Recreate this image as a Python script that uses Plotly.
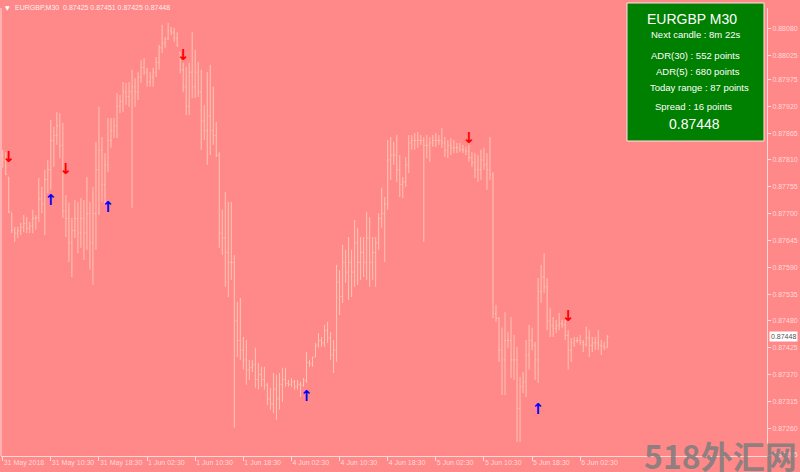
import plotly.graph_objects as go

# EURGBP M30 bars, prices in points (1e-5)
open_pts = [
    87820, 87810, 87775, 87703, 87666, 87660, 87665, 87672, 87680, 87670, 87675, 87690, 87692, 87730, 87720, 87770,
    87790, 87850, 87860, 87880, 87840, 87705, 87690, 87640, 87665, 87690, 87660, 87690, 87660, 87700, 87640, 87700,
    87790, 87830, 87760, 87800, 87850, 87870, 87880, 87920, 87930, 87950, 87940, 87950, 87960, 87950, 87980, 88000,
    87990, 87970, 87980, 87990, 88010, 88040, 88050, 88058, 88075, 88072, 88060, 88031, 87995, 87960, 87920, 87990,
    87960, 87990, 87950, 87890, 87870, 87900, 87870, 87860, 87820, 87660, 87650, 87620, 87600, 87600, 87480, 87440,
    87420, 87400, 87380, 87385, 87390, 87360, 87370, 87360, 87348, 87320, 87310, 87340, 87320, 87350, 87360, 87352,
    87350, 87355, 87345, 87350, 87348, 87358, 87395, 87392, 87406, 87430, 87440, 87435, 87460, 87445, 87410, 87420,
    87560, 87530, 87600, 87580, 87600, 87580, 87640, 87600, 87620, 87600, 87650, 87600, 87620, 87640, 87690, 87700,
    87720, 87810, 87820, 87820, 87790, 87760, 87765, 87800, 87845, 87850, 87850, 87850, 87850, 87840, 87840, 87845,
    87850, 87850, 87850, 87845, 87830, 87840, 87835, 87835, 87835, 87832, 87830, 87828, 87815, 87805, 87790, 87790,
    87810, 87800, 87790, 87780, 87495, 87485, 87420, 87400, 87440, 87440, 87400, 87400, 87300, 87345, 87355, 87410,
    87440, 87430, 87400, 87540, 87570, 87550, 87480, 87470, 87465, 87470, 87475, 87472, 87450, 87420, 87435, 87440,
    87440, 87436, 87432, 87445, 87430, 87435, 87435, 87430, 87428, 87425,
]
high_pts = [
    87831, 87826, 87775, 87701, 87673, 87673, 87681, 87697, 87693, 87683, 87708, 87697, 87773, 87755, 87790, 87810,
    87892, 87878, 87908, 87906, 87886, 87738, 87722, 87691, 87728, 87724, 87732, 87728, 87775, 87724, 87755, 87847,
    87919, 87857, 87824, 87896, 87896, 87896, 87947, 87943, 87970, 87968, 87970, 87995, 87978, 87990, 88015, 88019,
    87999, 87990, 87999, 88021, 88046, 88087, 88062, 88091, 88083, 88081, 88072, 88031, 88009, 88001, 88009, 88072,
    88036, 88011, 87995, 87923, 87990, 88005, 87960, 87888, 87826, 87708, 87744, 87724, 87724, 87615, 87519, 87527,
    87447, 87441, 87400, 87400, 87425, 87394, 87386, 87386, 87353, 87343, 87373, 87369, 87373, 87384, 87384, 87359,
    87363, 87359, 87359, 87355, 87363, 87416, 87400, 87406, 87435, 87455, 87447, 87472, 87478, 87457, 87441, 87595,
    87584, 87636, 87626, 87652, 87626, 87687, 87671, 87652, 87652, 87703, 87693, 87652, 87652, 87701, 87753, 87734,
    87851, 87857, 87847, 87861, 87820, 87775, 87816, 87861, 87861, 87865, 87867, 87861, 87857, 87861, 87857, 87861,
    87865, 87861, 87876, 87857, 87851, 87855, 87851, 87845, 87845, 87841, 87837, 87841, 87826, 87824, 87820, 87831,
    87835, 87824, 87857, 87785, 87513, 87488, 87466, 87498, 87457, 87488, 87451, 87427, 87365, 87375, 87441, 87472,
    87466, 87437, 87568, 87595, 87619, 87568, 87507, 87488, 87482, 87496, 87482, 87482, 87461, 87445, 87447, 87447,
    87451, 87441, 87468, 87461, 87447, 87447, 87461, 87441, 87437, 87451,
]
low_pts = [
    87794, 87779, 87701, 87660, 87642, 87650, 87656, 87662, 87660, 87660, 87660, 87667, 87683, 87701, 87656, 87742,
    87749, 87796, 87841, 87814, 87691, 87652, 87601, 87570, 87650, 87619, 87630, 87605, 87626, 87585, 87554, 87626,
    87697, 87724, 87718, 87785, 87835, 87855, 87855, 87906, 87908, 87923, 87919, 87712, 87919, 87933, 87968, 87984,
    87960, 87960, 87960, 87980, 87995, 88029, 88040, 88056, 88066, 88052, 88042, 87988, 87949, 87902, 87902, 87937,
    87937, 87939, 87831, 87851, 87800, 87820, 87841, 87816, 87630, 87615, 87550, 87529, 87564, 87261, 87406, 87400,
    87380, 87349, 87359, 87375, 87343, 87339, 87345, 87339, 87308, 87298, 87291, 87277, 87298, 87314, 87345, 87345,
    87345, 87339, 87339, 87324, 87345, 87353, 87386, 87386, 87406, 87425, 87427, 87427, 87435, 87400, 87373, 87396,
    87492, 87517, 87558, 87523, 87529, 87550, 87554, 87564, 87570, 87564, 87550, 87564, 87550, 87626, 87671, 87601,
    87708, 87769, 87800, 87765, 87734, 87732, 87755, 87783, 87831, 87831, 87835, 87841, 87642, 87814, 87806, 87837,
    87837, 87841, 87835, 87816, 87814, 87820, 87824, 87824, 87826, 87824, 87820, 87806, 87796, 87773, 87765, 87769,
    87790, 87749, 87769, 87486, 87478, 87396, 87328, 87328, 87425, 87363, 87359, 87232, 87232, 87332, 87324, 87380,
    87420, 87359, 87353, 87517, 87537, 87461, 87447, 87447, 87455, 87461, 87466, 87441, 87380, 87396, 87427, 87435,
    87431, 87416, 87427, 87406, 87416, 87420, 87420, 87410, 87420, 87425,
]
close_pts = [
    87810, 87780, 87703, 87666, 87660, 87665, 87672, 87680, 87670, 87675, 87690, 87692, 87730, 87720, 87770, 87790,
    87850, 87860, 87880, 87840, 87705, 87690, 87640, 87665, 87690, 87660, 87690, 87660, 87700, 87640, 87700, 87790,
    87830, 87760, 87800, 87850, 87870, 87880, 87920, 87930, 87950, 87940, 87950, 87960, 87950, 87980, 88000, 87990,
    87970, 87980, 87990, 88010, 88040, 88050, 88058, 88075, 88072, 88060, 88045, 87995, 87960, 87920, 87990, 87960,
    87990, 87950, 87890, 87870, 87900, 87870, 87860, 87820, 87660, 87650, 87620, 87600, 87600, 87480, 87440, 87420,
    87400, 87380, 87385, 87390, 87360, 87370, 87360, 87348, 87320, 87310, 87340, 87320, 87350, 87360, 87352, 87350,
    87355, 87345, 87350, 87348, 87358, 87395, 87392, 87406, 87430, 87440, 87435, 87460, 87445, 87410, 87420, 87560,
    87530, 87600, 87580, 87600, 87580, 87640, 87600, 87620, 87600, 87650, 87600, 87620, 87640, 87690, 87700, 87720,
    87810, 87820, 87820, 87790, 87760, 87765, 87800, 87845, 87850, 87850, 87850, 87850, 87840, 87840, 87845, 87850,
    87850, 87850, 87845, 87830, 87840, 87835, 87835, 87835, 87832, 87830, 87828, 87815, 87805, 87790, 87790, 87810,
    87800, 87790, 87780, 87495, 87485, 87420, 87400, 87440, 87440, 87400, 87400, 87300, 87345, 87355, 87410, 87440,
    87430, 87400, 87540, 87570, 87550, 87480, 87470, 87465, 87470, 87475, 87472, 87450, 87420, 87435, 87440, 87440,
    87436, 87432, 87445, 87430, 87435, 87435, 87430, 87428, 87425, 87448,
]

time_tick_idx = [0, 16, 32, 48, 64, 80, 96, 112, 128, 144, 160, 176, 192]
time_tick_text = ["31 May 2018", "31 May 10:30", "31 May 18:30", "1 Jun 02:30", "1 Jun 10:30",
                  "1 Jun 18:30", "4 Jun 02:30", "4 Jun 10:30", "4 Jun 18:30", "5 Jun 02:30",
                  "5 Jun 10:30", "5 Jun 18:30", "6 Jun 02:30"]
price_ticks = [0.88080, 0.88025, 0.87975, 0.87920, 0.87865, 0.87810, 0.87755, 0.87700, 0.87645,
               0.87590, 0.87535, 0.87480, 0.87425, 0.87370, 0.87315, 0.87260, 0.87205]

# signal arrows (bar index, price)
down_idx = [2, 21, 60, 155, 188]
down_price = [0.87814, 0.87789, 0.88023, 0.87853, 0.87488]
up_idx = [16, 35, 101, 178]
up_price = [0.87726, 0.87712, 0.87324, 0.87297]

info_lines = ["Next candle : 8m 22s", "ADR(30) : 552 points", "ADR(5) : 680 points",
              "Today range : 87 points", "Spread : 16 points"]
info_x = [695, 695, 698, 699, 693]
info_y = [35, 56, 71, 87, 106]
last_price = 0.87448

bg = "#FF8888"
bar_col = "#FFC6B4"
txt_col = "#FFD9D9"
font = "Liberation Sans"

idx = list(range(len(close_pts)))
fig = go.Figure()
fig.add_trace(go.Ohlc(
    x=idx,
    open=[v / 1e5 for v in open_pts],
    high=[v / 1e5 for v in high_pts],
    low=[v / 1e5 for v in low_pts],
    close=[v / 1e5 for v in close_pts],
    increasing_line_color=bar_col, decreasing_line_color=bar_col,
    line_width=1, tickwidth=0.34, showlegend=False, hoverinfo="skip",
))
fig.add_trace(go.Scatter(x=down_idx, y=down_price, mode="text", text=["<b>↓</b>"] * len(down_idx),
                         textfont=dict(color="#FF0000", size=15, family="DejaVu Sans"),
                         showlegend=False, hoverinfo="skip"))
fig.add_trace(go.Scatter(x=up_idx, y=up_price, mode="text", text=["<b>↑</b>"] * len(up_idx),
                         textfont=dict(color="#0000FF", size=15, family="DejaVu Sans"),
                         showlegend=False, hoverinfo="skip"))

W, H = 800, 472
ml, mr, mt, mb = 1, 33, 8, 16
pw, ph = W - ml - mr, H - mt - mb


def px_x(x):
    return (x - ml) / pw


def px_y(y):
    return (H - mb - y) / ph


fig.update_layout(
    width=W, height=H,
    margin=dict(l=ml, r=mr, t=mt, b=mb),
    paper_bgcolor=bg, plot_bgcolor=bg,
    font=dict(family=font, size=7, color=txt_col),
    xaxis=dict(range=[-0.57, 254.1], rangeslider_visible=False, showgrid=False, zeroline=False,
               tickmode="array", tickvals=time_tick_idx, ticktext=time_tick_text, tickangle=0,
               ticks="outside", ticklen=4, tickcolor=txt_col, ticklabelposition="outside right",
               showline=True, linecolor=txt_col, linewidth=1,
               tickfont=dict(family=font, size=7, color=txt_col)),
    yaxis=dict(range=[0.872030, 0.881216], side="right", showgrid=False, zeroline=False,
               tickmode="array", tickvals=price_ticks, tickformat=".5f",
               ticks="outside", ticklen=3, tickcolor=txt_col,
               showline=True, linecolor=txt_col, linewidth=1,
               tickfont=dict(family=font, size=7, color=txt_col)),
)

# left border
fig.add_shape(type="line", xref="paper", yref="paper", x0=0, x1=0, y0=0, y1=1,
              line=dict(color=txt_col, width=1))

# header
fig.add_annotation(xref="paper", yref="paper", x=px_x(3), y=px_y(7), xanchor="left", yanchor="middle",
                   text="▼", showarrow=False, font=dict(size=6, color="#FFFFFF", family="DejaVu Sans"))
fig.add_annotation(xref="paper", yref="paper", x=px_x(13), y=px_y(7), xanchor="left", yanchor="middle",
                   text="EURGBP,M30  0.87425 0.87451 0.87425 0.87448", showarrow=False,
                   font=dict(size=7, color="#FFEFEF", family=font))

# info panel
fig.add_shape(type="rect", xref="paper", yref="paper", x0=px_x(627), x1=px_x(764), y0=px_y(141), y1=px_y(3),
              fillcolor="#008000", line=dict(color="#FFE6E6", width=1))
fig.add_annotation(xref="paper", yref="paper", x=px_x(692), y=px_y(19), text="EURGBP M30", showarrow=False,
                   xanchor="center", yanchor="middle", font=dict(size=14, color="white", family=font))
for line, xx, yy in zip(info_lines, info_x, info_y):
    fig.add_annotation(xref="paper", yref="paper", x=px_x(xx), y=px_y(yy), text=line, showarrow=False,
                       xanchor="center", yanchor="middle", font=dict(size=9.5, color="white", family=font))
fig.add_annotation(xref="paper", yref="paper", x=px_x(694), y=px_y(124), text=f"{last_price:.5f}",
                   showarrow=False, xanchor="center", yanchor="middle",
                   font=dict(size=14, color="white", family=font))

# current price label on the axis
fig.add_annotation(xref="paper", yref="y", x=px_x(769), y=last_price, xanchor="left", yanchor="middle",
                   text=f"{last_price:.5f}", showarrow=False, bgcolor="white", borderpad=1,
                   font=dict(size=7, color="#555555", family=font))

# watermark
fig.add_annotation(xref="paper", yref="paper", x=px_x(720), y=px_y(455), text="<b>518外汇网</b>",
                   xanchor="center", yanchor="middle", showarrow=False,
                   font=dict(size=32, color="rgba(125,125,125,0.85)", family="Noto Sans CJK SC"))

fig.write_html("out.html", config={"displayModeBar": False},
               post_script="document.body.style.margin='0';")
